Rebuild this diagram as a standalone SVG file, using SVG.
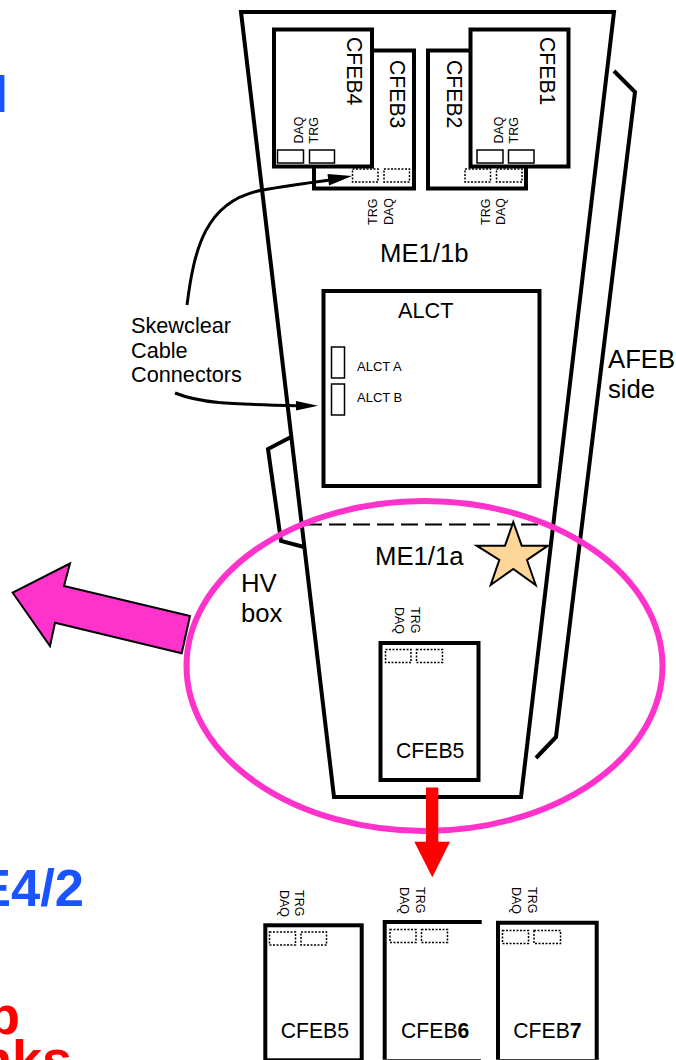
<svg xmlns="http://www.w3.org/2000/svg" width="676" height="1060" viewBox="0 0 676 1060">
<style>
text{font-family:"Liberation Sans",Arial,sans-serif;fill:#000}
.box{fill:#fff;stroke:#000;stroke-width:4}
.line{fill:none;stroke:#000;stroke-width:4}
.thin{fill:none;stroke:#000;stroke-width:3}
.port{fill:#fff;stroke:#000;stroke-width:1.5}
.dash{fill:#fff;stroke:#000;stroke-width:1.5;stroke-dasharray:2 1.5}
.t21{font-size:21.2px}
.t25{font-size:25.7px}
.t13{font-size:12.5px}
.lab{font-size:21.7px}
.head{fill:#000}
.blue{fill:#1a53ff;font-weight:bold;font-size:52.5px}
.red{fill:#f00;font-weight:bold;font-size:54px}
.base{stroke:#444;stroke-width:1}
</style>
<rect width="676" height="1060" fill="#fff"/>
<g id="side-text">
<rect x="-1" y="75" width="5.4" height="37" fill="#1a53ff"/>
<text class="blue" x="84" y="906" text-anchor="end">E4/2</text>
<text class="red" x="20" y="1034" text-anchor="end">p</text>
<text class="red" x="72" y="1078" text-anchor="end">nks</text>
</g>
<g id="chamber">
<path class="line" d="M241,12H614L521,797H334Z"/>
<path class="line" d="M291,437L268,449L281,541L304,547"/>
<path class="line" d="M614,71L635,92L556,737L536,758"/>
<line x1="305" y1="524.5" x2="550" y2="524.5" stroke="#000" stroke-width="2" stroke-dasharray="17 7"/>
<text class="t25" x="380" y="262">ME1/1b</text>
<text class="t25" x="375" y="565">ME1/1a</text>
<text class="t25" x="608" y="368">AFEB</text>
<text class="t25" x="608" y="398">side</text>
<text class="t25" x="241" y="592">HV</text>
<text class="t25" x="241" y="622">box</text>
</g>
<g id="cfeb3">
<rect class="box" x="314" y="50.5" width="100" height="138"/>
<rect class="dash" x="352.5" y="169" width="25.5" height="13"/>
<rect class="dash" x="384" y="169" width="25.5" height="13"/>
<text class="t21" transform="translate(389.5,60) rotate(90)">CFEB3</text>
<text class="t13" transform="translate(377,225) rotate(-90)">TRG</text>
<text class="t13" transform="translate(392.5,225) rotate(-90)">DAQ</text>
</g>
<g id="cfeb4">
<rect class="box" x="274" y="29.5" width="98" height="137"/>
<rect class="port" x="277.5" y="150" width="26" height="13"/>
<rect class="port" x="309.5" y="150" width="25" height="13"/>
<text class="t21" transform="translate(346.5,37) rotate(90)">CFEB4</text>
<text class="t13" transform="translate(302.5,143.5) rotate(-90)">DAQ</text>
<text class="t13" transform="translate(318,143.5) rotate(-90)">TRG</text>
</g>
<g id="cfeb2">
<rect class="box" x="428" y="50.5" width="98" height="138"/>
<rect class="dash" x="465" y="169" width="25.5" height="13"/>
<rect class="dash" x="496.5" y="169" width="25.5" height="13"/>
<text class="t21" transform="translate(446.5,60) rotate(90)">CFEB2</text>
<text class="t13" transform="translate(489.5,225) rotate(-90)">TRG</text>
<text class="t13" transform="translate(505,225) rotate(-90)">DAQ</text>
</g>
<g id="cfeb1">
<rect class="box" x="470.5" y="29.5" width="98" height="137"/>
<rect class="port" x="477" y="150" width="26" height="13"/>
<rect class="port" x="508.5" y="150" width="25.5" height="13"/>
<text class="t21" transform="translate(539.5,37) rotate(90)">CFEB1</text>
<text class="t13" transform="translate(502.5,143.5) rotate(-90)">DAQ</text>
<text class="t13" transform="translate(518,143.5) rotate(-90)">TRG</text>
</g>
<g id="alct">
<rect class="box" x="323.5" y="291" width="216" height="195"/>
<text class="lab" x="398" y="318">ALCT</text>
<rect class="port" x="331.5" y="347" width="13" height="31"/>
<rect class="port" x="331.5" y="384" width="13" height="31"/>
<text x="357" y="371" font-size="13">ALCT A</text>
<text x="357" y="401.5" font-size="13">ALCT B</text>
</g>
<g id="cfeb5-mid">
<rect class="box" x="380.5" y="643" width="98" height="137"/>
<rect class="dash" x="385.5" y="649.5" width="25.5" height="13"/>
<rect class="dash" x="416.5" y="649.5" width="26" height="13"/>
<text class="t21" x="396" y="758">CFEB5</text>
<text class="t13" transform="translate(394.5,607) rotate(90)">DAQ</text>
<text class="t13" transform="translate(411,607) rotate(90)">TRG</text>
</g>
<g id="pink-arrow">
<polygon points="190,616 64,586 70,563.5 12.7,592.7 50,646 55,622.7 181.7,653.3" fill="#ff33cc" stroke="#000" stroke-width="2"/>
</g>
<g id="hv-ellipse">
<ellipse cx="424.5" cy="666" rx="238" ry="165" fill="none" stroke="#ff33cc" stroke-width="6"/>
</g>
<g id="star">
<polygon points="513.3,522 521.7,545.7 548,545.7 527,560 535.7,585 513.3,569 490.7,585 499.3,560 476.7,545.7 505,545.7" fill="#ffd699" stroke="#000" stroke-width="2"/>
</g>
<g id="red-arrow">
<polygon points="426,787.5 438.3,787.5 438.3,841.7 450,841.7 432.3,877.3 414.3,841.7 426,841.7" fill="#f00"/>
</g>
<g id="cfeb5-low">
<rect class="box" x="265.3" y="925.3" width="96.4" height="135"/>
<rect class="dash" x="269.5" y="932" width="26" height="13"/>
<rect class="dash" x="301" y="932" width="25.5" height="13"/>
<text class="t21" x="280.7" y="1038">CFEB5</text>
<text class="t13" transform="translate(279.5,890) rotate(90)">DAQ</text>
<text class="t13" transform="translate(295,890) rotate(90)">TRG</text>
</g>
<g id="cfeb6">
<path d="M481.7,922H384.7V1060" class="line"/>
<line class="base" x1="383" y1="1059.5" x2="481" y2="1059.5"/>
<rect class="dash" x="390" y="929.5" width="26" height="13"/>
<rect class="dash" x="421.5" y="929.5" width="26" height="13"/>
<text class="t21" x="401" y="1038">CFEB<tspan font-weight="bold">6</tspan></text>
<text class="t13" transform="translate(399.5,887) rotate(90)">DAQ</text>
<text class="t13" transform="translate(415.5,887) rotate(90)">TRG</text>
</g>
<g id="cfeb7">
<path d="M498,1060V922.7H596.7V1060" class="line"/>
<line class="base" x1="496" y1="1059.5" x2="598" y2="1059.5"/>
<rect class="dash" x="502.5" y="930.5" width="26" height="13"/>
<rect class="dash" x="534" y="930.5" width="26.5" height="13"/>
<text class="t21" x="513.3" y="1038">CFEB<tspan font-weight="bold">7</tspan></text>
<text class="t13" transform="translate(512,887) rotate(90)">DAQ</text>
<text class="t13" transform="translate(528,887) rotate(90)">TRG</text>
</g>
<g id="connectors">
<path class="thin" d="M187,305C194,250 205,200 263,190C285,186 300,184 330,180"/>
<polygon class="head" points="352,176 327.5,174 329,185.5"/>
<path class="thin" d="M175,393C200,403 225,404 298,405.7"/>
<polygon class="head" points="318,405.7 296,401 296,410.5"/>
<text class="lab" x="131" y="333">Skewclear</text>
<text class="lab" x="131" y="357.5">Cable</text>
<text class="lab" x="131" y="382">Connectors</text>
</g>
</svg>
